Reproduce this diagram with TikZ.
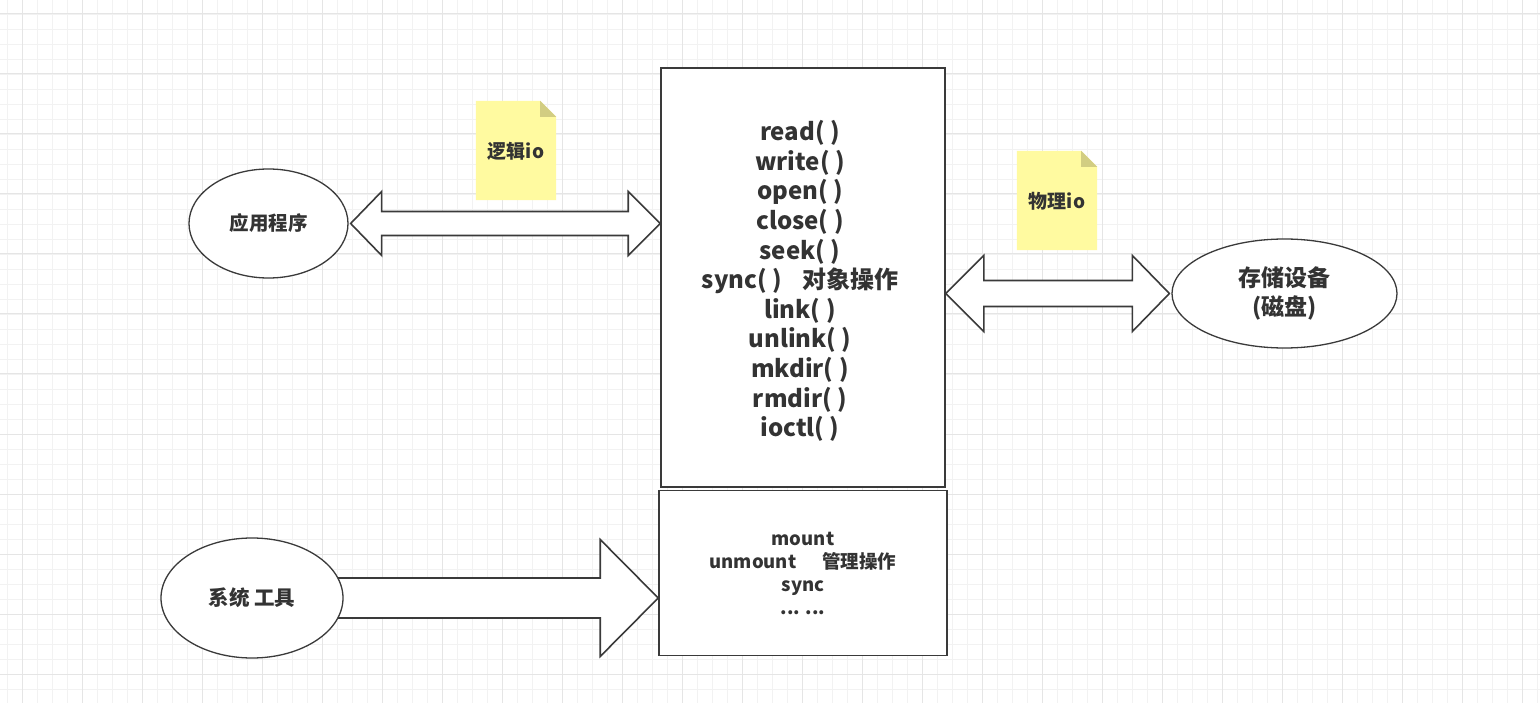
\documentclass[tikz,border=0pt]{standalone}
\usepackage{fontspec}
\setmainfont{Noto Sans CJK SC}
\usetikzlibrary{calc,shapes.geometric}
\pgfdeclarelayer{gridlayer}
\pgfdeclarelayer{arrowlayer}
\pgfsetlayers{gridlayer,arrowlayer,main}
\definecolor{ink}{HTML}{333333}
\definecolor{edge}{HTML}{3A3A3A}
\definecolor{gridminor}{HTML}{F2F2F2}
\definecolor{gridmajor}{HTML}{E5E5E5}
\definecolor{notefill}{HTML}{FFFAA0}
\definecolor{notefold}{HTML}{D2CD82}
\tikzset{
  ellnode/.style={ellipse, draw=edge, line width=1.3pt, fill=white, inner sep=0pt, text=ink, font=\bfseries},
  boxnode/.style={rectangle, draw=edge, line width=1.6pt, fill=white, inner sep=0pt, text=ink, font=\bfseries, align=center},
  notenode/.style={rectangle, inner sep=0pt, minimum width=80pt, minimum height=99pt, text=ink, font=\bfseries\fontsize{19}{22}\selectfont},
  blockarrow/.style={draw=edge, line width=1.6pt, fill=white, line join=miter},
}
\begin{document}
\begin{tikzpicture}[x=1pt,y=-1pt]
\useasboundingbox (0,0) rectangle (1540,703);
\begin{pgfonlayer}{gridlayer}
  \fill[white] (0,0) rectangle (1540,703);
  \foreach \i in {0,...,103} {\draw[gridminor, line width=0.8pt] ({7+15*\i},0) -- ({7+15*\i},703);}
  \foreach \j in {-1,...,46} {\draw[gridminor, line width=0.8pt] (0,{14+15*\j}) -- (1540,{14+15*\j});}
  \foreach \i in {0,...,25} {\draw[gridmajor, line width=1pt] ({22+60*\i},0) -- ({22+60*\i},703);}
  \foreach \j in {0,...,11} {\draw[gridmajor, line width=1pt] (0,{14+60*\j}) -- (1540,{14+60*\j});}
\end{pgfonlayer}

% nodes
\node[ellnode, minimum width=159pt, minimum height=109pt, font=\bfseries\fontsize{19.5}{22}\selectfont] (app) at (268.5,223.5) {应用程序};
\node[ellnode, minimum width=182pt, minimum height=120pt, font=\bfseries\fontsize{20.5}{24}\selectfont] (tool) at (252,598) {系统 工具};
\node[ellnode, minimum width=225pt, minimum height=109pt, font=\bfseries\fontsize{23}{29}\selectfont, align=center] (disk) at (1284.5,293.5) {存储设备\\[0pt](磁盘)};

\node[boxnode, minimum width=284pt, minimum height=419pt] (main) at (803,277.5) {};
\node[text=ink, font=\bfseries\fontsize{24}{29.6}\selectfont, align=center, inner sep=0pt] (maintext) at (800,281)
  {read( )\\write( )\\open( )\\close( )\\seek( )\\sync( )\hspace{20pt}对象操作\\link( )\\unlink( )\\mkdir( )\\rmdir( )\\ioctl( )};
\node[boxnode, minimum width=288pt, minimum height=165pt, font=\bfseries\fontsize{18.5}{23}\selectfont] (mgmt) at (803,573)
  {mount\\unmount\hspace{26pt}管理操作\\sync\\... ...};

% sticky notes
\node[notenode] (note1) at (516,150.5) {};
\fill[notefill] (note1.south west) -- (note1.north west) -- ([xshift=-16pt]note1.north east) -- ([yshift=-16pt]note1.north east) -- (note1.south east) -- cycle;
\fill[notefold] ([xshift=-16pt]note1.north east) -- ([yshift=-16pt]note1.north east) -- ([xshift=-16pt,yshift=-16pt]note1.north east) -- cycle;
\node[notenode] at ([yshift=-1pt]note1.center) {逻辑io};

\node[notenode] (note2) at (1057,200.5) {};
\fill[notefill] (note2.south west) -- (note2.north west) -- ([xshift=-16pt]note2.north east) -- ([yshift=-16pt]note2.north east) -- (note2.south east) -- cycle;
\fill[notefold] ([xshift=-16pt]note2.north east) -- ([yshift=-16pt]note2.north east) -- ([xshift=-16pt,yshift=-16pt]note2.north east) -- cycle;
\node[notenode] at ([yshift=-1pt]note2.center) {物理io};

% connectors (block arrows)
\coordinate (a1l) at ([xshift=2pt]app.east);
\coordinate (a1r) at (main.west |- a1l);
\coordinate (a2l) at (main.east |- disk.west);
\coordinate (a2r) at ([xshift=-2pt]disk.west);
\coordinate (a3l) at ([xshift=-20pt]tool.east);
\coordinate (a3r) at (mgmt.west |- a3l);
\begin{pgfonlayer}{arrowlayer}
\draw[blockarrow] (a1l) -- ($(a1l)+(31,-32)$) -- ($(a1l)+(31,-12)$) -- ($(a1r)+(-32,-12)$) -- ($(a1r)+(-32,-32)$) -- (a1r)
  -- ($(a1r)+(-32,32)$) -- ($(a1r)+(-32,12)$) -- ($(a1l)+(31,12)$) -- ($(a1l)+(31,32)$) -- cycle;
\draw[blockarrow] (a2l) -- ($(a2l)+(38,-38)$) -- ($(a2l)+(38,-13)$) -- ($(a2r)+(-37,-13)$) -- ($(a2r)+(-37,-38)$) -- (a2r)
  -- ($(a2r)+(-37,38)$) -- ($(a2r)+(-37,13)$) -- ($(a2l)+(38,13)$) -- ($(a2l)+(38,38)$) -- cycle;
\draw[blockarrow] ($(a3l)+(0,-20)$) -- ($(a3r)+(-58,-20)$) -- ($(a3r)+(-58,-58.5)$) -- (a3r) -- ($(a3r)+(-58,58.5)$) -- ($(a3r)+(-58,20)$) -- ($(a3l)+(0,20)$) -- cycle;
\end{pgfonlayer}
\end{tikzpicture}
\end{document}
